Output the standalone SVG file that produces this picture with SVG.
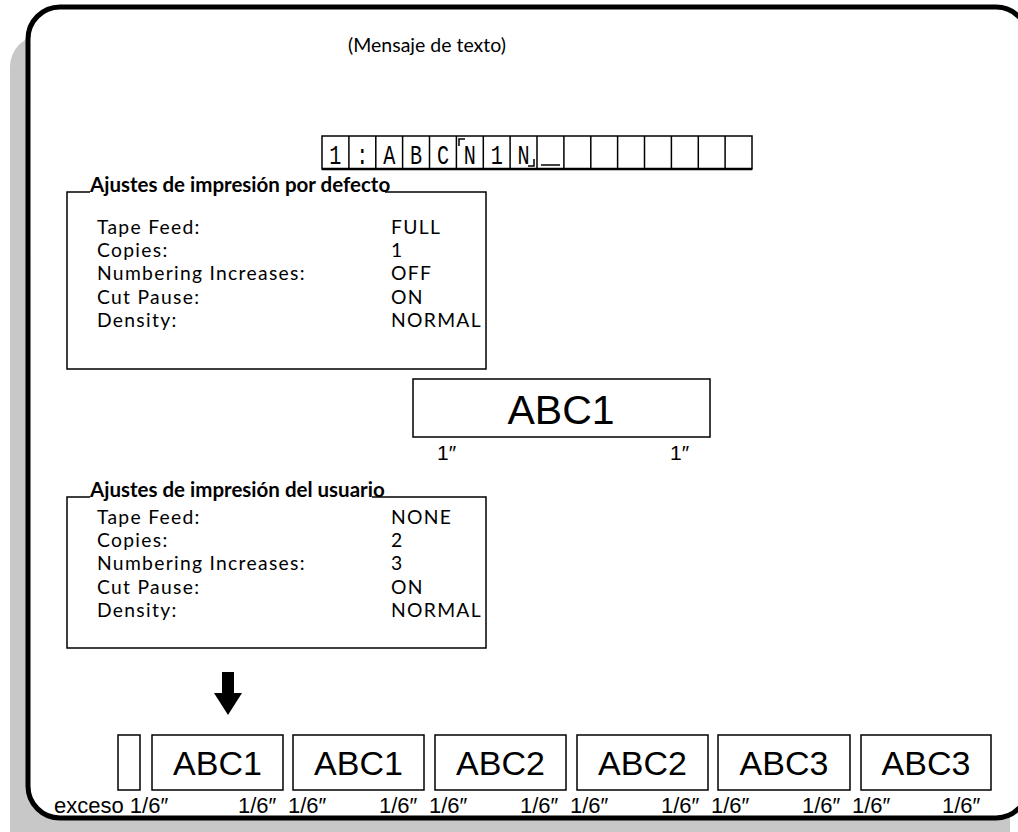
<svg xmlns="http://www.w3.org/2000/svg" width="1018" height="832" viewBox="0 0 1018 832">
<style>
.body{font-family:"Lato","Open Sans",sans-serif;font-size:19.3px;letter-spacing:1.3px;fill:#000}
.head{font-family:"Lato","Open Sans",sans-serif;font-size:20.5px;font-weight:bold;fill:#000}
.title{font-family:"Lato","Open Sans",sans-serif;font-size:19.5px;fill:#000}
.sans{font-family:"Liberation Sans",Arial,sans-serif;fill:#000}
.lcd{font-family:"Liberation Mono","DejaVu Sans Mono",monospace;font-size:28px;fill:#000;text-anchor:middle}
.ln{stroke:#000;stroke-width:1.5;fill:none}
.box{stroke:#000;stroke-width:1.5;fill:#fff}
</style>
<rect width="1018" height="832" fill="#fff"/>
<rect x="10" y="35" width="1000" height="830" rx="32" fill="#c8c8c8"/>
<rect x="28" y="7" width="1000" height="811" rx="32" fill="#fff" stroke="#000" stroke-width="5"/>

<g id="title"><text class="title" x="348" y="52">(Mensaje de texto)</text></g>

<g id="display">
<rect x="322" y="136" width="430" height="33" class="ln"/>
<line x1="322" y1="169" x2="752" y2="169" stroke="#000" stroke-width="2.5"/>
<path class="ln" d="M348.9 136V169M375.8 136V169M402.6 136V169M429.5 136V169M456.4 136V169M483.3 136V169M510.1 136V169M537 136V169M563.9 136V169M590.8 136V169M617.6 136V169M644.5 136V169M671.4 136V169M698.3 136V169M725.1 136V169"/>
<text class="lcd" transform="translate(335.4 164) scale(0.72 1)">1</text>
<text class="lcd" transform="translate(362.3 164) scale(0.72 1)">:</text>
<text class="lcd" transform="translate(389.2 164) scale(0.72 1)">A</text>
<text class="lcd" transform="translate(416.1 164) scale(0.72 1)">B</text>
<text class="lcd" transform="translate(443 164) scale(0.72 1)">C</text>
<text class="lcd" transform="translate(469.8 164) scale(0.72 1)">N</text>
<text class="lcd" transform="translate(496.7 164) scale(0.72 1)">1</text>
<text class="lcd" transform="translate(523.6 164) scale(0.72 1)">N</text>
<path class="ln" d="M459 146V139H465M528 166H534V159"/>
<line x1="541" y1="165" x2="560" y2="165" stroke="#000" stroke-width="1.5"/>
</g>

<g id="default-settings">
<path class="ln" d="M90 192H67V369H486V192H385"/>
<text class="head" x="90" y="192">Ajustes de impresión por defecto</text>
<text class="body" x="97" y="234">Tape Feed:</text><text class="body" x="391" y="234">FULL</text>
<text class="body" x="97" y="257">Copies:</text><text class="body" x="391" y="257">1</text>
<text class="body" x="97" y="280">Numbering Increases:</text><text class="body" x="391" y="280">OFF</text>
<text class="body" x="97" y="304">Cut Pause:</text><text class="body" x="391" y="304">ON</text>
<text class="body" x="97" y="327">Density:</text><text class="body" x="391" y="327">NORMAL</text>
</g>

<g id="sample-label">
<rect x="413" y="379" width="297" height="58" class="box"/>
<text class="sans" x="561" y="424" font-size="41" text-anchor="middle">ABC1</text>
<text class="sans" x="437" y="460" font-size="21">1″</text>
<text class="sans" x="670" y="460" font-size="21">1″</text>
</g>

<g id="user-settings">
<path class="ln" d="M90 497H67V648H486V497H372"/>
<text class="head" x="90" y="497">Ajustes de impresión del usuario</text>
<text class="body" x="97" y="524">Tape Feed:</text><text class="body" x="391" y="524">NONE</text>
<text class="body" x="97" y="547">Copies:</text><text class="body" x="391" y="547">2</text>
<text class="body" x="97" y="570">Numbering Increases:</text><text class="body" x="391" y="570">3</text>
<text class="body" x="97" y="594">Cut Pause:</text><text class="body" x="391" y="594">ON</text>
<text class="body" x="97" y="617">Density:</text><text class="body" x="391" y="617">NORMAL</text>
</g>

<g id="connectors">
<path d="M222 672H234V693H242L228 715L214 693H222Z" fill="#000"/>
</g>

<g id="printed-tape">
<rect x="118" y="735" width="22" height="55" class="box"/>
<g id="tape1"><rect x="152" y="735" width="131" height="55" class="box"/><text class="sans" x="217.5" y="775" font-size="34" text-anchor="middle">ABC1</text></g>
<g id="tape2"><rect x="293" y="735" width="131" height="55" class="box"/><text class="sans" x="358.5" y="775" font-size="34" text-anchor="middle">ABC1</text></g>
<g id="tape3"><rect x="435" y="735" width="131" height="55" class="box"/><text class="sans" x="500.5" y="775" font-size="34" text-anchor="middle">ABC2</text></g>
<g id="tape4"><rect x="577" y="735" width="131" height="55" class="box"/><text class="sans" x="642.5" y="775" font-size="34" text-anchor="middle">ABC2</text></g>
<g id="tape5"><rect x="718" y="735" width="132" height="55" class="box"/><text class="sans" x="784" y="775" font-size="34" text-anchor="middle">ABC3</text></g>
<g id="tape6"><rect x="861" y="735" width="130" height="55" class="box"/><text class="sans" x="926" y="775" font-size="34" text-anchor="middle">ABC3</text></g>
</g>

<g id="margins" class="sans" font-size="22">
<text x="54" y="813">exceso 1/6″</text>
<text x="238" y="813">1/6″</text><text x="288" y="813">1/6″</text>
<text x="379" y="813">1/6″</text><text x="429" y="813">1/6″</text>
<text x="520" y="813">1/6″</text><text x="570" y="813">1/6″</text>
<text x="661" y="813">1/6″</text><text x="711" y="813">1/6″</text>
<text x="802" y="813">1/6″</text><text x="852" y="813">1/6″</text>
<text x="942" y="813">1/6″</text>
</g>
</svg>
